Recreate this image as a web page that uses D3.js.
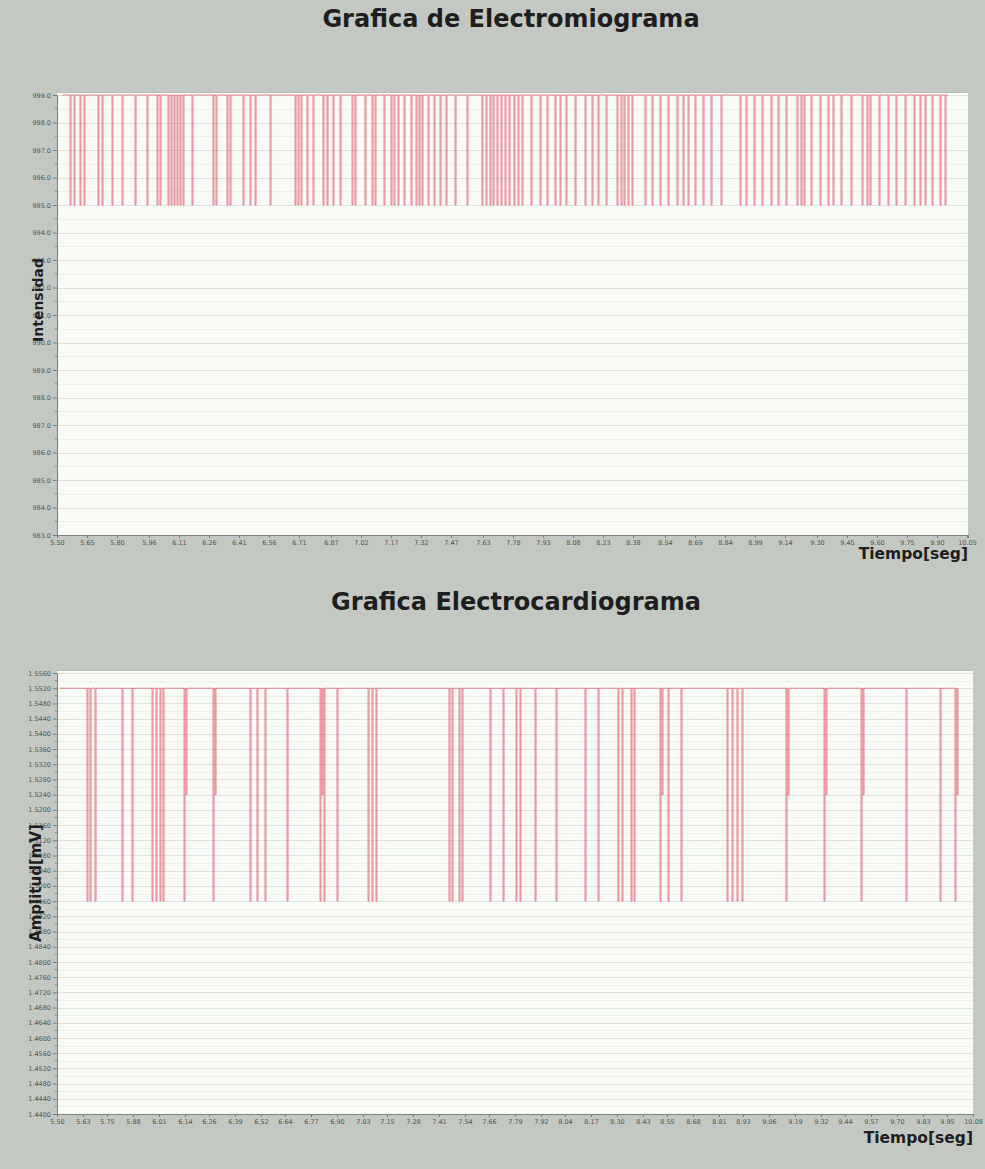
<!DOCTYPE html>
<html>
<head>
<meta charset="utf-8">
<script src="https://cdn.jsdelivr.net/npm/d3@7/dist/d3.min.js"></script>
<style>
  html, body { margin: 0; padding: 0; background: #c4c8c2; }
  svg { display: block; }
  text { font-family: "DejaVu Sans", Verdana, sans-serif; }
</style>
</head>
<body>
<svg id="chart" width="985" height="1169"></svg>
<script>
// ---------- Electromiograma (EMG) ----------
const emgYTicks = [983, 984, 985, 986, 987, 988, 989, 990, 991, 992, 993, 994, 995, 996, 997, 998, 999];
const emgXTicks = [5.50, 5.65, 5.80, 5.96, 6.11, 6.26, 6.41, 6.56, 6.71, 6.87, 7.02, 7.17, 7.32, 7.47, 7.63,
                   7.78, 7.93, 8.08, 8.23, 8.38, 8.54, 8.69, 8.84, 8.99, 9.14, 9.30, 9.45, 9.60, 9.75, 9.90, 10.05];
const emgBase = 999;          // resting level
const emgSpan = [5.525, 9.955];
// instants where the signal drops, and the level it reaches
const emgDipTime = [5.565, 5.585, 5.615, 5.635, 5.705, 5.725, 5.775, 5.825, 5.890, 5.950,
  6.000, 6.015, 6.055, 6.070, 6.085, 6.100, 6.115, 6.130, 6.175, 6.280, 6.295, 6.350, 6.365,
  6.430, 6.465, 6.490, 6.565, 6.690, 6.705, 6.720, 6.750, 6.780, 6.830, 6.850, 6.880, 6.915, 6.975,
  6.990, 7.040, 7.075, 7.090, 7.135, 7.170, 7.185, 7.205, 7.235, 7.270, 7.295, 7.310, 7.325, 7.355, 7.385,
  7.415, 7.445, 7.490, 7.550, 7.625, 7.645, 7.665, 7.680, 7.700, 7.720, 7.740, 7.760, 7.785, 7.805, 7.825, 7.870,
  7.915, 7.950, 7.990, 8.015, 8.045, 8.090, 8.140, 8.175, 8.205, 8.245, 8.300, 8.320, 8.335, 8.355, 8.375, 8.440,
  8.475, 8.515, 8.555, 8.600, 8.630, 8.655, 8.690, 8.730, 8.770, 8.820, 8.915, 8.945, 8.985, 9.025, 9.070, 9.105,
  9.145, 9.200, 9.220, 9.235, 9.270, 9.315, 9.355, 9.380, 9.420, 9.470, 9.525, 9.550, 9.565, 9.610, 9.655, 9.695,
  9.740, 9.785, 9.815, 9.840, 9.875, 9.915, 9.940];
const emgDipLevel = emgDipTime.map(() => 995);

// ---------- Electrocardiograma (ECG) ----------
const ecgYTicks = [1.440, 1.444, 1.448, 1.452, 1.456, 1.460, 1.464, 1.468, 1.472, 1.476, 1.480, 1.484, 1.488,
  1.492, 1.496, 1.500, 1.504, 1.508, 1.512, 1.516, 1.520, 1.524, 1.528, 1.532, 1.536, 1.540, 1.544, 1.548, 1.552, 1.556];
const ecgXTicks = [5.50, 5.63, 5.75, 5.88, 6.01, 6.14, 6.26, 6.39, 6.52, 6.64, 6.77, 6.90, 7.03, 7.15, 7.28, 7.41,
  7.54, 7.66, 7.79, 7.92, 8.04, 8.17, 8.30, 8.43, 8.55, 8.68, 8.81, 8.93, 9.06, 9.19, 9.32, 9.44, 9.57, 9.70, 9.83,
  9.95, 10.08];
const ecgBase = 1.552;
const ecgSpan = [5.515, 10.005];
const ecgDipTime = [5.650, 5.665, 5.690, 5.825, 5.875, 5.975, 5.995, 6.015, 6.030, 6.135, 6.145, 6.280, 6.290,
  6.465, 6.500, 6.540, 6.650, 6.815, 6.825, 6.835, 6.900, 7.055, 7.075, 7.095, 7.460, 7.475, 7.510, 7.525,
  7.665, 7.730, 7.795, 7.815, 7.890, 7.995, 8.140, 8.205, 8.305, 8.325, 8.370, 8.385, 8.515, 8.525, 8.555, 8.620,
  8.850, 8.875, 8.900, 8.925, 9.145, 9.155, 9.335, 9.345, 9.520, 9.530, 9.745, 9.915, 9.990, 10.000];
const ecgDipLevel = [1.496, 1.496, 1.496, 1.496, 1.496, 1.496, 1.496, 1.496, 1.496, 1.496, 1.524, 1.496, 1.524,
  1.496, 1.496, 1.496, 1.496, 1.496, 1.524, 1.496, 1.496, 1.496, 1.496, 1.496, 1.496, 1.496, 1.496, 1.496,
  1.496, 1.496, 1.496, 1.496, 1.496, 1.496, 1.496, 1.496, 1.496, 1.496, 1.496, 1.496, 1.496, 1.524, 1.496, 1.496,
  1.496, 1.496, 1.496, 1.496, 1.496, 1.524, 1.496, 1.524, 1.496, 1.524, 1.496, 1.496, 1.496, 1.524];

const samplePeriod = 0.005;   // one acquisition sample, seconds

const svg = d3.select("#chart");
const traceColor = "#e4586a";

// Builds the polyline of a signal that rests at `base` and drops for one sample at each dip.
function tracePoints(span, base, dipTimes, dipLevels) {
  const pts = [[span[0], base]];
  dipTimes.forEach((t, i) => {
    pts.push([t, base], [t, dipLevels[i]], [t + samplePeriod, dipLevels[i]], [t + samplePeriod, base]);
  });
  pts.push([span[1], base]);
  return pts;
}

function drawPanel(cfg) {
  const { left, right, top, bottom, frameTop } = cfg;
  const x = d3.scaleLinear().domain(cfg.xDomain).range([left, right]);
  const y = d3.scaleLinear().domain(cfg.yDomain).range([bottom, top]);
  const g = svg.append("g");

  // plot background
  g.append("rect").attr("x", left).attr("y", frameTop)
    .attr("width", right - left).attr("height", bottom - frameTop)
    .attr("fill", "#f8fbf6");
  g.append("line").attr("x1", left).attr("x2", right).attr("y1", frameTop + 0.5).attr("y2", frameTop + 0.5)
    .attr("stroke", "#b9bdb7").attr("stroke-width", 1);

  // minor and major horizontal grid
  const minors = d3.pairs(cfg.yTicks).map(([a, b]) => (a + b) / 2);
  g.append("g").selectAll("line").data(minors).join("line")
    .attr("x1", left).attr("x2", right)
    .attr("y1", d => Math.round(y(d)) + 0.5).attr("y2", d => Math.round(y(d)) + 0.5)
    .attr("stroke", "#edf1ec").attr("stroke-width", 1);
  g.append("g").selectAll("line").data(cfg.yTicks).join("line")
    .attr("x1", left).attr("x2", right)
    .attr("y1", d => Math.round(y(d)) + 0.5).attr("y2", d => Math.round(y(d)) + 0.5)
    .attr("stroke", "#dde2db").attr("stroke-width", 1);

  // the trace
  const clipId = cfg.id + "-clip";
  svg.append("clipPath").attr("id", clipId).append("rect")
    .attr("x", left).attr("y", frameTop).attr("width", right - left).attr("height", bottom - frameTop);
  const line = d3.line().x(d => x(d[0])).y(d => y(d[1]));
  g.append("path")
    .datum(tracePoints(cfg.span, cfg.base, cfg.dipTime, cfg.dipLevel))
    .attr("clip-path", `url(#${clipId})`)
    .attr("fill", "none").attr("stroke", traceColor).attr("stroke-width", 1)
    .attr("stroke-opacity", 0.7).attr("d", line);

  // axes
  const yAxis = d3.axisLeft(y).tickValues(cfg.yTicks).tickFormat(d3.format(cfg.yFormat)).tickSize(4).tickPadding(2);
  const ya = g.append("g").attr("transform", `translate(${left},0)`).call(yAxis);
  const xAxis = d3.axisBottom(x).tickValues(cfg.xTicks).tickFormat(d3.format(".2f")).tickSize(3).tickPadding(2);
  const xa = g.append("g").attr("transform", `translate(0,${bottom})`).call(xAxis);
  // minor y ticks
  g.append("g").selectAll("line").data(minors).join("line")
    .attr("x1", left - 2).attr("x2", left)
    .attr("y1", d => y(d)).attr("y2", d => y(d)).attr("stroke", "#888");
  [ya, xa].forEach(a => {
    a.select(".domain").attr("stroke", "#7d817b");
    a.selectAll(".tick line").attr("stroke", "#7d817b");
    a.selectAll(".tick text").attr("fill", "#555").style("font-size", "6.5px")
      .style("font-family", "'DejaVu Sans', sans-serif");
  });

  // titles
  svg.append("text").attr("x", cfg.titleX).attr("y", cfg.titleY).attr("text-anchor", "middle")
    .style("font-size", "24px").style("font-weight", "bold").attr("fill", "#1e1e1e").text(cfg.title);
  svg.append("text").attr("transform", `translate(${cfg.yLabelX},${cfg.yLabelY}) rotate(-90)`)
    .attr("text-anchor", "middle").style("font-size", cfg.yLabelSize).style("font-weight", "bold")
    .attr("fill", "#1e1e1e").text(cfg.yLabel);
  svg.append("text").attr("x", right).attr("y", cfg.xLabelY).attr("text-anchor", "end")
    .style("font-size", "15.5px").style("font-weight", "bold").attr("fill", "#1e1e1e").text("Tiempo[seg]");
}

drawPanel({
  id: "emg", left: 57, right: 968, top: 95, bottom: 535, frameTop: 92,
  xDomain: [5.50, 10.055], yDomain: [983, 999],
  xTicks: emgXTicks, yTicks: emgYTicks, yFormat: ".1f",
  span: emgSpan, base: emgBase, dipTime: emgDipTime, dipLevel: emgDipLevel,
  title: "Grafica de Electromiograma", titleX: 511, titleY: 27,
  yLabel: "Intensidad", yLabelX: 43, yLabelY: 300, yLabelSize: "14px",
  xLabelY: 559
});

drawPanel({
  id: "ecg", left: 57, right: 973, top: 673, bottom: 1114, frameTop: 670,
  xDomain: [5.50, 10.08], yDomain: [1.440, 1.556],
  xTicks: ecgXTicks, yTicks: ecgYTicks, yFormat: ".4f",
  span: ecgSpan, base: ecgBase, dipTime: ecgDipTime, dipLevel: ecgDipLevel,
  title: "Grafica Electrocardiograma", titleX: 516, titleY: 610,
  yLabel: "Amplitud[mV]", yLabelX: 41, yLabelY: 883, yLabelSize: "15px",
  xLabelY: 1143
});
</script>
</body>
</html>
